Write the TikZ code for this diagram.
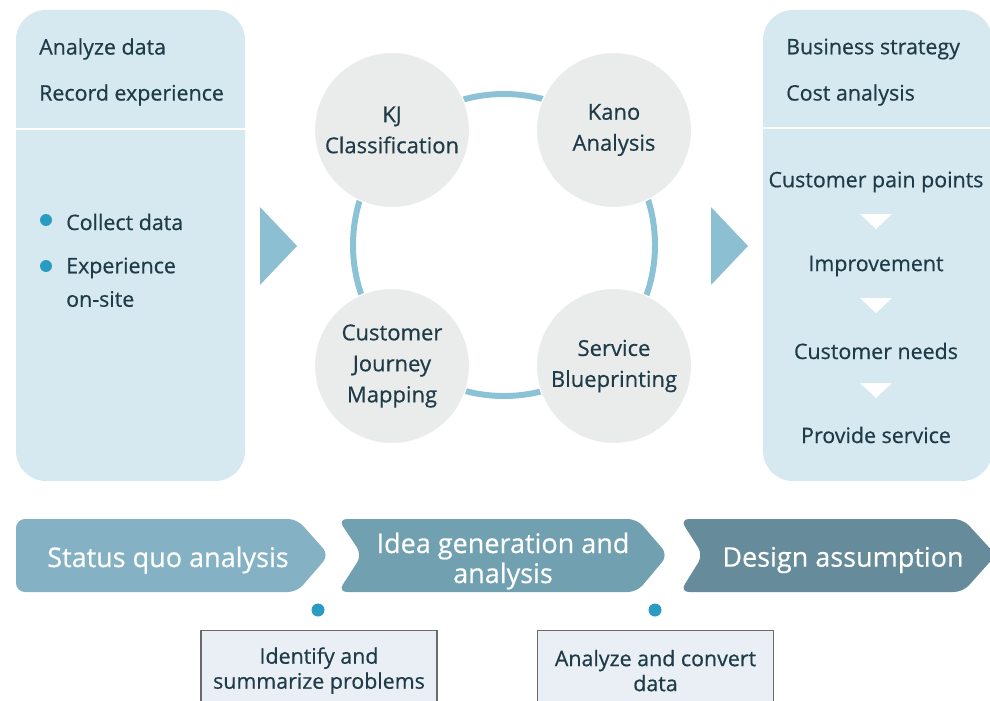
\documentclass[tikz,border=0pt]{standalone}
\usepackage{fontspec}
\setmainfont{Open Sans}[FakeBold=0.5]
\definecolor{panel}{HTML}{D6E9F0}
\definecolor{ink}{HTML}{1E3B47}
\definecolor{pointer}{HTML}{8DBFD2}
\definecolor{ringc}{HTML}{8CC2D5}
\definecolor{disc}{HTML}{EAECEC}
\definecolor{bullet}{HTML}{2B9CC1}
\definecolor{stageA}{HTML}{84B2C4}
\definecolor{stageB}{HTML}{71A0B0}
\definecolor{stageC}{HTML}{668B9A}
\definecolor{note}{HTML}{E9EFF4}
\definecolor{noteline}{HTML}{6A6A6A}
\begin{document}
\begin{tikzpicture}[x=1bp,y=-1bp,
  body/.style={font=\fontsize{21.4bp}{25bp}\selectfont, text=ink, inner sep=0},
  label/.style={body, anchor=west},
  flow/.style={body, anchor=center},
  discnode/.style={circle, fill=disc, draw=white, line width=1, minimum size=155bp,
    inner sep=0, align=center, text=ink, font=\fontsize{22bp}{31bp}\selectfont},
  stagetext/.style={text=white, align=center, inner sep=0,
    font=\fontsize{27bp}{30bp}\selectfont},
  dotnode/.style={circle, fill=bullet, minimum size=13bp, inner sep=0},
  notebox/.style={draw=noteline, line width=1.2, fill=note, minimum width=236bp,
    minimum height=80bp, align=center, text=ink, inner sep=0,
    font=\fontsize{21.4bp}{25bp}\selectfont},
  gap/.style={white, line width=3},
  downtri/.style={fill=white}
]
\useasboundingbox (0,0) rectangle (990,701);
\clip (0,0) rectangle (990,701);

% side panels
\fill[panel, rounded corners=30] (16,10) rectangle (245,481);
\draw[gap] (16,129) -- (245,129);
\fill[panel, rounded corners=30] (763,10) rectangle (992,481);
\draw[gap] (763,128) -- (992,128);

% left panel text
\node[label] (analyze) at (39,49) {Analyze data};
\node[label] (record) at (39,95) {Record experience};
\node[dotnode, minimum size=12bp] (b1) at (46,220) {};
\node[label] (collect) at (66,222) {Collect data};
\node[dotnode, minimum size=12bp] (b2) at (46,266) {};
\node[label] (exper) at (66,268) {Experience};
\node[label] (onsite) at (66,299) {on-site};

% pointers between columns
\fill[pointer] (260,207) -- (297,246) -- (260,285) -- cycle;
\fill[pointer] (711,207) -- (748,246) -- (711,285) -- cycle;

% method ring
\node[circle, draw=ringc, line width=6, minimum size=302bp, inner sep=0] (ring) at (504,245) {};
\node[discnode] (kj) at (392,130) {KJ\\Classification};
\node[discnode] (kano) at (614,130) {Kano\\Analysis};
\node[discnode] (cjm) at (392,366) {Customer\\Journey\\Mapping};
\node[discnode] (sbp) at (614,366) {Service\\Blueprinting};

% right panel text
\node[label] (business) at (786,49) {Business strategy};
\node[label] (cost) at (786,95) {Cost analysis};
\node[flow] (pain) at (876,182) {Customer pain points};
\node[flow] (improve) at (876,266) {Improvement};
\node[flow] (needs) at (876,351) {Customer needs};
\node[flow] (provide) at (876,435) {Provide service};
\fill[downtri] (860,214) -- (892,214) -- (876,229) -- cycle;
\fill[downtri] (860,298) -- (892,298) -- (876,313) -- cycle;
\fill[downtri] (860,383) -- (892,383) -- (876,398) -- cycle;

% stage chevrons
\fill[stageA, rounded corners=9] (16,519) -- (297,519) -- (329,555) -- (297,592) -- (16,592) -- cycle;
\fill[stageB, rounded corners=9] (338,519) -- (637,519) -- (668,555) -- (637,592) -- (338,592) -- (362,555) -- cycle;
\fill[stageC, rounded corners=9] (680,519) -- (963,519) -- (996,555) -- (963,592) -- (680,592) -- (703,555) -- cycle;
\node[stagetext] (status) at (168,560) {Status quo analysis};
\node[stagetext] (idea) at (503,561) {Idea generation and\\analysis};
\node[stagetext] (design) at (843,560) {Design assumption};

% notes below the stages
\node[dotnode] (d1) at (318,610) {};
\node[dotnode] (d2) at (655,610) {};
\node[notebox, anchor=north] (noteA) at (319,630) {Identify and\\summarize problems};
\node[notebox, anchor=north] (noteB) at (655.5,630) {Analyze and convert\\data};
\end{tikzpicture}
\end{document}
